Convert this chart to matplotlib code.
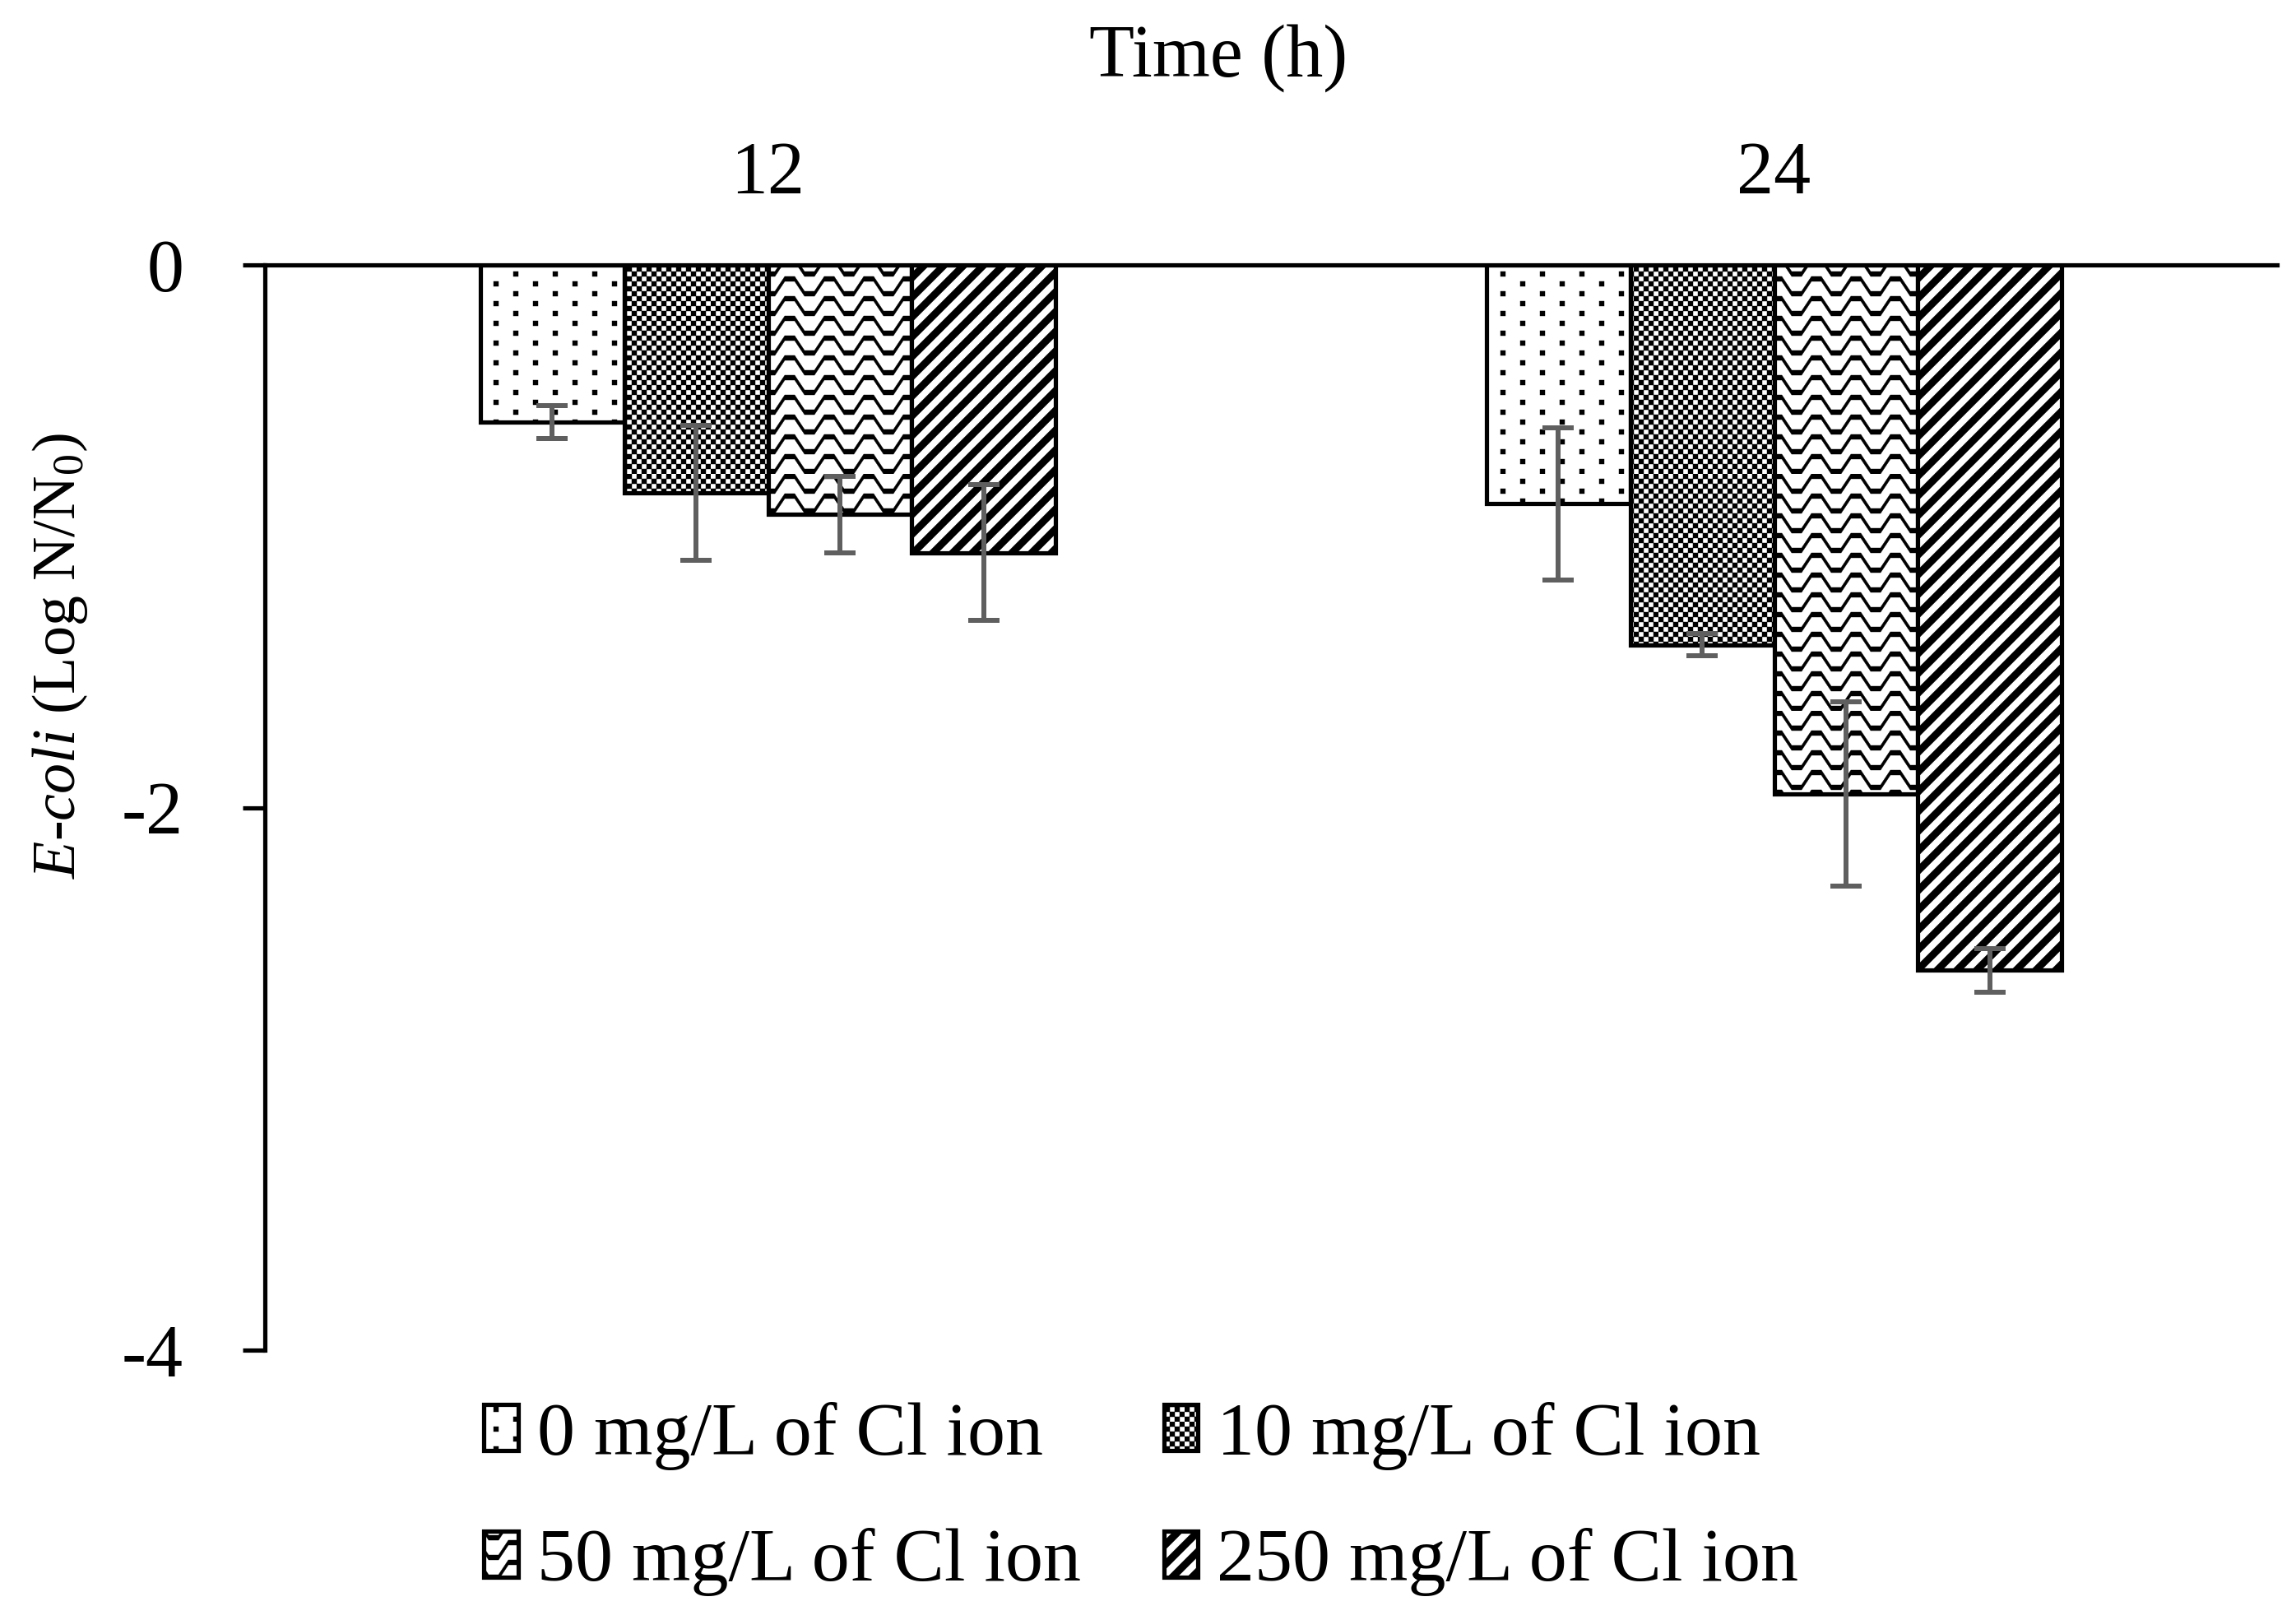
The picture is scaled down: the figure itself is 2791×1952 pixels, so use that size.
import warnings
import numpy as np
import matplotlib
matplotlib.use('Agg')
import matplotlib.pyplot as plt
import matplotlib.hatch as mhatch
from matplotlib.path import Path

warnings.filterwarnings('ignore')

# data
times = ['12', '24']
labels = ['0 mg/L of Cl ion', '10 mg/L of Cl ion', '50 mg/L of Cl ion', '250 mg/L of Cl ion']
cl_0 = [-0.58, -0.88]
cl_10 = [-0.84, -1.40]
cl_50 = [-0.92, -1.95]
cl_250 = [-1.06, -2.60]
err_0 = [0.06, 0.28]
err_10 = [0.25, 0.04]
err_50 = [0.14, 0.34]
err_250 = [0.25, 0.08]
yticks = [0, -2, -4]
ytick_labels = ['0', '-2', '-4']

DPI = 288
U = 1 / 48  # one pattern pixel (hatch tile is 72 pt = 288 px)


def rect(x, y, w=1, h=1):
    return [(x * U, y * U), ((x + w) * U, y * U), ((x + w) * U, (y + h) * U), (x * U, (y + h) * U)]


# Excel-like fill patterns, built as filled polygons in the unit hatch tile
dots = [rect(x + 4 * (r % 2), 2 * r) for r in range(24) for x in range(0, 48, 8)]
checker = [rect(i, j) for i in range(48) for j in range(48) if (i + j) % 2 == 0]
diag = [[(4 * k * U, 0), ((4 * k + 2) * U, 0), ((4 * k + 2) * U + 1, 1), (4 * k * U + 1, 1)]
        for k in range(-12, 13)]

wave = []
cx, cy = [], []
for p in range(-1, 7):
    for dx, dy in [(0, 1.5), (1, 1.5), (3, -1.5), (5, -1.5), (7, 1.5)]:
        cx.append(8 * p + dx)
        cy.append(dy)
cx.append(56)
cy.append(1.5)
t = 1.0
for j in range(12):
    yc = 4 * j + 2
    top = [(a * U, (yc + b + t / 2) * U) for a, b in zip(cx, cy)]
    bot = [(a * U, (yc + b - t / 2) * U) for a, b in zip(cx, cy)][::-1]
    wave.append(top + bot)

patterns = {'d': dots, 'c': checker, 'w': wave, 'z': diag}


class PixelHatch(mhatch.HatchPatternBase):
    def __init__(self, hatch, density):
        self.polys = [poly for ch in hatch for poly in patterns.get(ch, [])]
        self.num_vertices = sum(len(p) + 1 for p in self.polys)

    def set_vertices_and_codes(self, vertices, codes):
        i = 0
        for p in self.polys:
            n = len(p)
            vertices[i:i + n] = p
            vertices[i + n] = p[0]
            codes[i] = Path.MOVETO
            codes[i + 1:i + n] = Path.LINETO
            codes[i + n] = Path.CLOSEPOLY
            i += n + 1


mhatch._hatch_types.append(PixelHatch)

plt.rcParams['font.family'] = 'Liberation Serif'
plt.rcParams['mathtext.fontset'] = 'custom'
plt.rcParams['mathtext.rm'] = 'Liberation Serif'
plt.rcParams['mathtext.it'] = 'Liberation Serif:italic'
plt.rcParams['axes.unicode_minus'] = False
plt.rcParams['hatch.linewidth'] = 0.1
fs = 22.5

fig = plt.figure(figsize=(2791 / DPI, 1952 / DPI), dpi=DPI)
ax = fig.add_axes([322 / 2791, 1 - 1641 / 1952, (2768 - 322) / 2791, (1641 - 322) / 1952])

x = np.arange(len(times))
w = 1 / 7
series = [cl_0, cl_10, cl_50, cl_250]
errors = [err_0, err_10, err_50, err_250]
hatches = ['d', 'c', 'w', 'z']
for i in range(4):
    ax.bar(x + (i - 1.5) * w, series[i], w, yerr=errors[i], color='white', edgecolor='black',
           linewidth=1.3, hatch=hatches[i], label=labels[i],
           error_kw=dict(ecolor='#5f5f5f', elinewidth=1.5, capsize=4.75, capthick=1.5))

ax.set_xlim(-0.5, 1.5)
ax.set_ylim(-4, 0)
ax.spines['bottom'].set_visible(False)
ax.spines['right'].set_visible(False)
ax.spines['top'].set_linewidth(1.3)
ax.spines['left'].set_linewidth(1.3)

ax.xaxis.tick_top()
ax.set_xticks(x, times)
ax.tick_params(axis='x', length=0, pad=17, labelsize=fs)
ax.set_yticks(yticks, ytick_labels)
ax.tick_params(axis='y', length=6.75, width=1.3, pad=18, labelsize=fs)

ax.set_xlabel('Time (h)', fontsize=fs)
ax.xaxis.set_label_position('top')
ax.xaxis.set_label_coords(0.474, 1.1736)
ax.set_ylabel(r'$E$-$coli$ (Log N/N$_0$)', fontsize=18.5)
ax.yaxis.set_label_coords(-0.087, 0.64)

handles, labs = ax.get_legend_handles_labels()
order = [0, 2, 1, 3]
fig.legend([handles[i] for i in order], [labs[i] for i in order], loc='center',
           bbox_to_anchor=(0.497, 0.0666), ncol=2, frameon=False, fontsize=23,
           handlelength=0.45, handleheight=0.55, handletextpad=0.25,
           columnspacing=1.1, labelspacing=0.77, borderpad=0)

fig.savefig('out.png', dpi=DPI)
